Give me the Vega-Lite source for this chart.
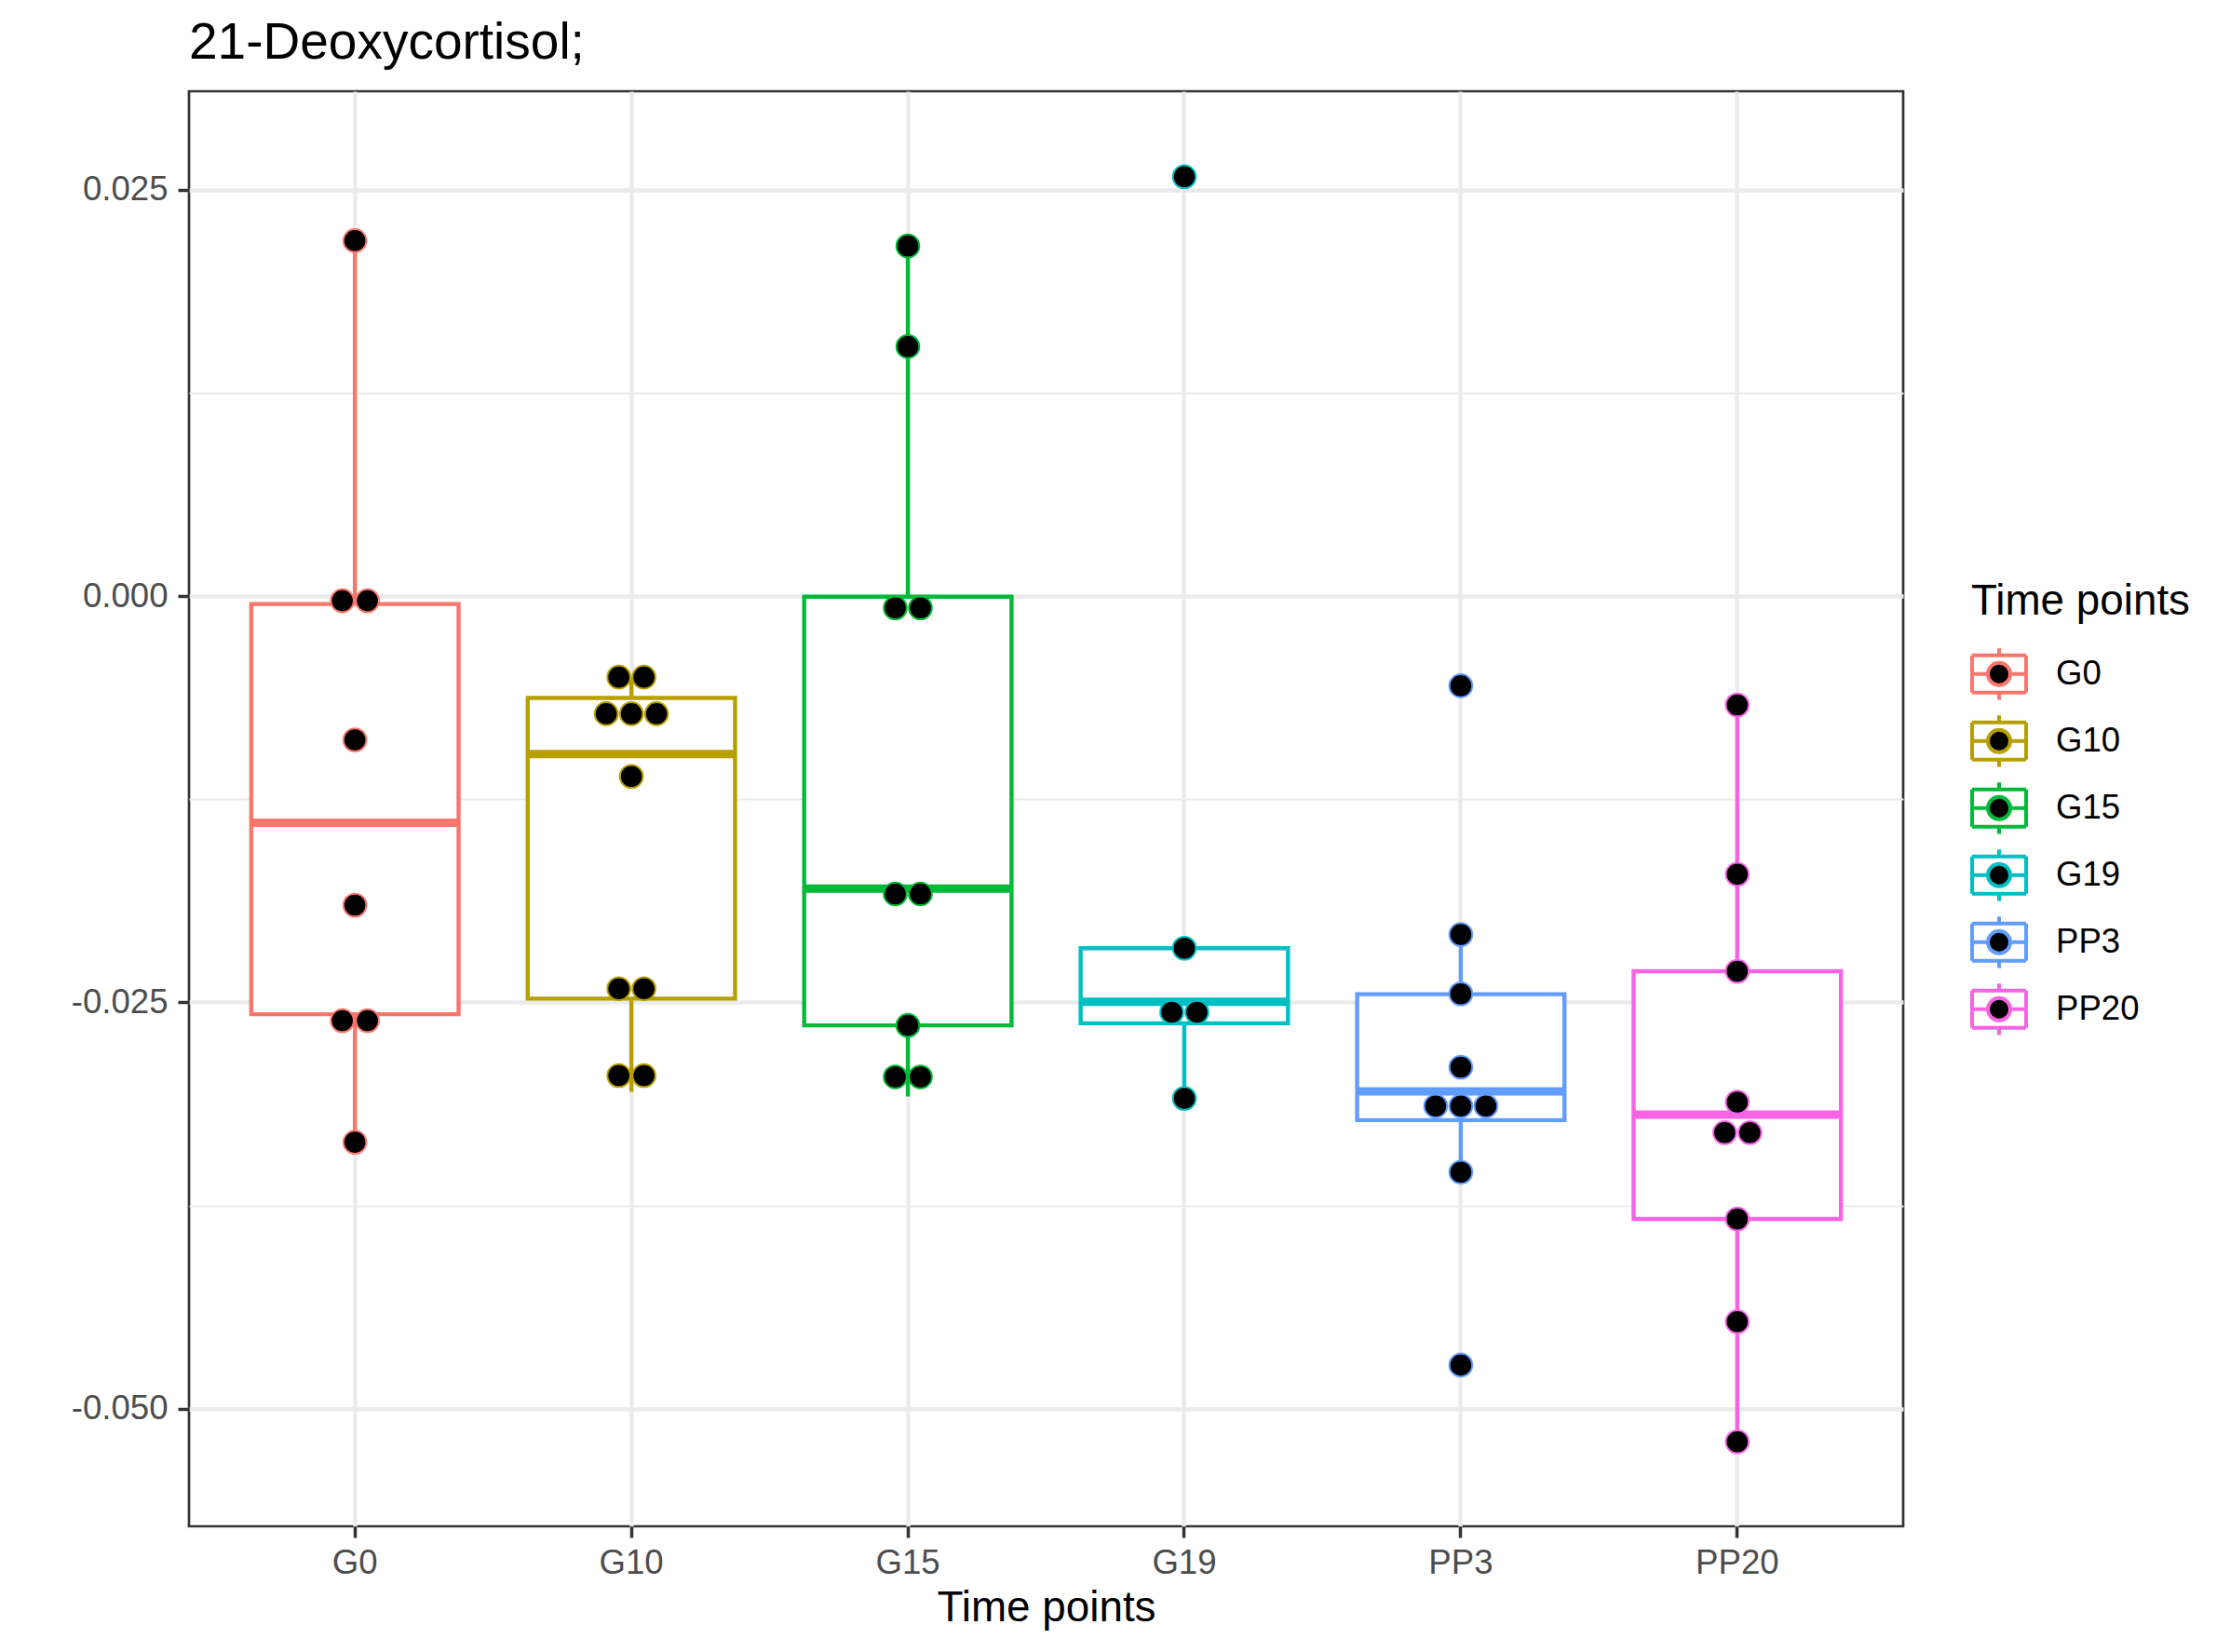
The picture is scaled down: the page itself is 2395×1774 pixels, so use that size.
{
  "$schema": "https://vega.github.io/schema/vega-lite/v6.json",
  "width": 1841,
  "height": 1541,
  "autosize": "none",
  "padding": {"left": 203, "top": 98, "right": 351, "bottom": 135},
  "background": "white",
  "title": {
    "text": "21-Deoxycortisol;",
    "anchor": "start",
    "frame": "group",
    "fontSize": 55,
    "font": "Liberation Sans",
    "fontWeight": "normal",
    "color": "black",
    "baseline": "alphabetic",
    "offset": -20
  },
  "datasets": {
    "boxes": [
      {"time": "G0", "lower": -0.0336, "q1": -0.02573, "median": -0.01395, "q3": -0.00049, "upper": 0.02187},
      {"time": "G10", "lower": -0.03051, "q1": -0.02477, "median": -0.00973, "q3": -0.00627, "upper": -0.00499},
      {"time": "G15", "lower": -0.03079, "q1": -0.02642, "median": -0.01801, "q3": -0.00004, "upper": 0.02154},
      {"time": "G19", "lower": -0.03091, "q1": -0.02629, "median": -0.02497, "q3": -0.02167, "upper": -0.02167},
      {"time": "PP3", "lower": -0.03545, "q1": -0.03225, "median": -0.03048, "q3": -0.0245, "upper": -0.02083},
      {"time": "PP20", "lower": -0.05204, "q1": -0.03833, "median": -0.03191, "q3": -0.02309, "upper": -0.0067}
    ],
    "dots": [
      {"time": "G0", "value": 0.02187, "k": 0},
      {"time": "G0", "value": -0.00029, "k": -0.5},
      {"time": "G0", "value": -0.00029, "k": 0.5},
      {"time": "G0", "value": -0.00885, "k": 0},
      {"time": "G0", "value": -0.01902, "k": 0},
      {"time": "G0", "value": -0.02613, "k": -0.5},
      {"time": "G0", "value": -0.02613, "k": 0.5},
      {"time": "G0", "value": -0.03361, "k": 0},
      {"time": "G10", "value": -0.00499, "k": -0.5},
      {"time": "G10", "value": -0.00499, "k": 0.5},
      {"time": "G10", "value": -0.00724, "k": -1},
      {"time": "G10", "value": -0.00724, "k": 0},
      {"time": "G10", "value": -0.00724, "k": 1},
      {"time": "G10", "value": -0.0111, "k": 0},
      {"time": "G10", "value": -0.02416, "k": -0.5},
      {"time": "G10", "value": -0.02416, "k": 0.5},
      {"time": "G10", "value": -0.02951, "k": -0.5},
      {"time": "G10", "value": -0.02951, "k": 0.5},
      {"time": "G15", "value": 0.02154, "k": 0},
      {"time": "G15", "value": 0.01535, "k": 0},
      {"time": "G15", "value": -0.00073, "k": -0.5},
      {"time": "G15", "value": -0.00073, "k": 0.5},
      {"time": "G15", "value": -0.01833, "k": -0.5},
      {"time": "G15", "value": -0.01833, "k": 0.5},
      {"time": "G15", "value": -0.02642, "k": 0},
      {"time": "G15", "value": -0.02959, "k": -0.5},
      {"time": "G15", "value": -0.02959, "k": 0.5},
      {"time": "G19", "value": 0.0258, "k": 0},
      {"time": "G19", "value": -0.02167, "k": 0},
      {"time": "G19", "value": -0.02561, "k": -0.5},
      {"time": "G19", "value": -0.02561, "k": 0.5},
      {"time": "G19", "value": -0.03091, "k": 0},
      {"time": "PP3", "value": -0.00552, "k": 0},
      {"time": "PP3", "value": -0.02083, "k": 0},
      {"time": "PP3", "value": -0.02448, "k": 0},
      {"time": "PP3", "value": -0.02899, "k": 0},
      {"time": "PP3", "value": -0.03138, "k": -1},
      {"time": "PP3", "value": -0.03138, "k": 0},
      {"time": "PP3", "value": -0.03138, "k": 1},
      {"time": "PP3", "value": -0.03545, "k": 0},
      {"time": "PP3", "value": -0.04732, "k": 0},
      {"time": "PP20", "value": -0.0067, "k": 0},
      {"time": "PP20", "value": -0.01712, "k": 0},
      {"time": "PP20", "value": -0.02309, "k": 0},
      {"time": "PP20", "value": -0.03114, "k": 0},
      {"time": "PP20", "value": -0.03302, "k": -0.5},
      {"time": "PP20", "value": -0.03302, "k": 0.5},
      {"time": "PP20", "value": -0.03833, "k": 0},
      {"time": "PP20", "value": -0.04465, "k": 0},
      {"time": "PP20", "value": -0.05204, "k": 0}
    ]
  },
  "encoding": {
    "x": {
      "field": "time",
      "type": "nominal",
      "sort": ["G0", "G10", "G15", "G19", "PP3", "PP20"],
      "scale": {"paddingInner": 0, "paddingOuter": 0.1},
      "axis": {
        "title": "Time points",
        "titleFont": "Liberation Sans",
        "titleFontSize": 45.8,
        "titleFontWeight": "normal",
        "titleColor": "black",
        "titleBaseline": "alphabetic",
        "titleY": 101,
        "labelFont": "Liberation Sans",
        "labelFontSize": 36.6,
        "labelColor": "#4D4D4D",
        "labelAngle": 0,
        "labelPadding": 9,
        "tickSize": 12,
        "tickWidth": 3.5,
        "tickColor": "#333333",
        "domain": false,
        "grid": true,
        "gridColor": "#EBEBEB",
        "gridWidth": 4.4,
        "bandPosition": 0.5
      }
    },
    "color": {
      "field": "time",
      "type": "nominal",
      "scale": {
        "domain": ["G0", "G10", "G15", "G19", "PP3", "PP20"],
        "range": ["#F8766D", "#B79F00", "#00BA38", "#00BFC4", "#619CFF", "#F564E3"]
      },
      "legend": {
        "orient": "none",
        "legendX": 1914,
        "legendY": 526,
        "padding": 0,
        "title": "Time points",
        "titleFont": "Liberation Sans",
        "titleFontSize": 45.8,
        "titleFontWeight": "normal",
        "titleColor": "black",
        "titleLimit": 600,
        "titlePadding": 24,
        "labelFont": "Liberation Sans",
        "labelFontSize": 36.6,
        "labelColor": "black",
        "labelLimit": 400,
        "labelOffset": 31,
        "rowPadding": 0,
        "symbolType": "M-1.049,-0.723L1.049,-0.723M1.049,-0.723L1.049,0.723M1.049,0.723L-1.049,0.723M-1.049,0.723L-1.049,-0.723M0,-1L0,-0.723M0,0.723L0,1M-1.049,0L-0.434,0M0.434,0L1.049,0M0.434,0A0.434,0.434,0,1,1,-0.434,0A0.434,0.434,0,1,1,0.434,0Z",
        "symbolSize": 3058,
        "symbolStrokeWidth": 4,
        "symbolFillColor": "black"
      }
    }
  },
  "layer": [
    {
      "data": {"name": "dots"},
      "mark": {"type": "point", "filled": false, "fill": "black", "fillOpacity": 1, "size": 0, "strokeWidth": 4, "opacity": 1},
      "encoding": {
        "y": {
          "field": "value",
          "type": "quantitative",
          "scale": {"domain": [-0.05724, 0.03106], "nice": false, "zero": false},
          "axis": {
            "title": null,
            "values": [-0.05, -0.0375, -0.025, -0.0125, 0, 0.0125, 0.025],
            "labelExpr": "abs(datum.value*40 - round(datum.value*40)) < 0.001 ? replace(format(datum.value, '.3f'), '\u2212', '-') : ''",
            "labelFont": "Liberation Sans",
            "labelFontSize": 36.6,
            "labelColor": "#4D4D4D",
            "labelPadding": 11,
            "tickSize": 12,
            "tickWidth": 3.5,
            "tickColor": "#333333",
            "tickOpacity": {"condition": {"test": "abs(datum.value*40 - round(datum.value*40)) < 0.001", "value": 1}, "value": 0},
            "domain": false,
            "grid": true,
            "gridColor": "#EBEBEB",
            "gridWidth": {"condition": {"test": "abs(datum.value*40 - round(datum.value*40)) < 0.001", "value": 4.4}, "value": 2.2}
          }
        }
      }
    },
    {
      "data": {"name": "boxes"},
      "mark": {"type": "rule", "strokeWidth": 4.4},
      "encoding": {
        "y": {"field": "lower", "type": "quantitative"},
        "y2": {"field": "upper"}
      }
    },
    {
      "data": {"name": "boxes"},
      "mark": {"type": "bar", "filled": false, "fill": "white", "strokeWidth": 4.4, "width": 222.7},
      "encoding": {
        "y": {"field": "q1", "type": "quantitative"},
        "y2": {"field": "q3"}
      }
    },
    {
      "data": {"name": "boxes"},
      "mark": {"type": "tick", "filled": false, "thickness": 0.001, "size": 213.7, "strokeWidth": 9, "strokeJoin": "miter", "opacity": 1},
      "encoding": {
        "y": {"field": "median", "type": "quantitative"}
      }
    },
    {
      "data": {"name": "dots"},
      "mark": {"type": "point", "filled": false, "fill": "black", "fillOpacity": 1, "size": 605, "strokeWidth": 2, "opacity": 1},
      "encoding": {
        "y": {"field": "value", "type": "quantitative"},
        "xOffset": {"field": "k", "type": "quantitative", "scale": {"domain": [-5.5, 5.5], "range": [0, 296.94]}}
      }
    }
  ],
  "config": {
    "view": {"stroke": "#333333", "strokeWidth": 2.7},
    "axis": {"labelFont": "Liberation Sans"}
  }
}
